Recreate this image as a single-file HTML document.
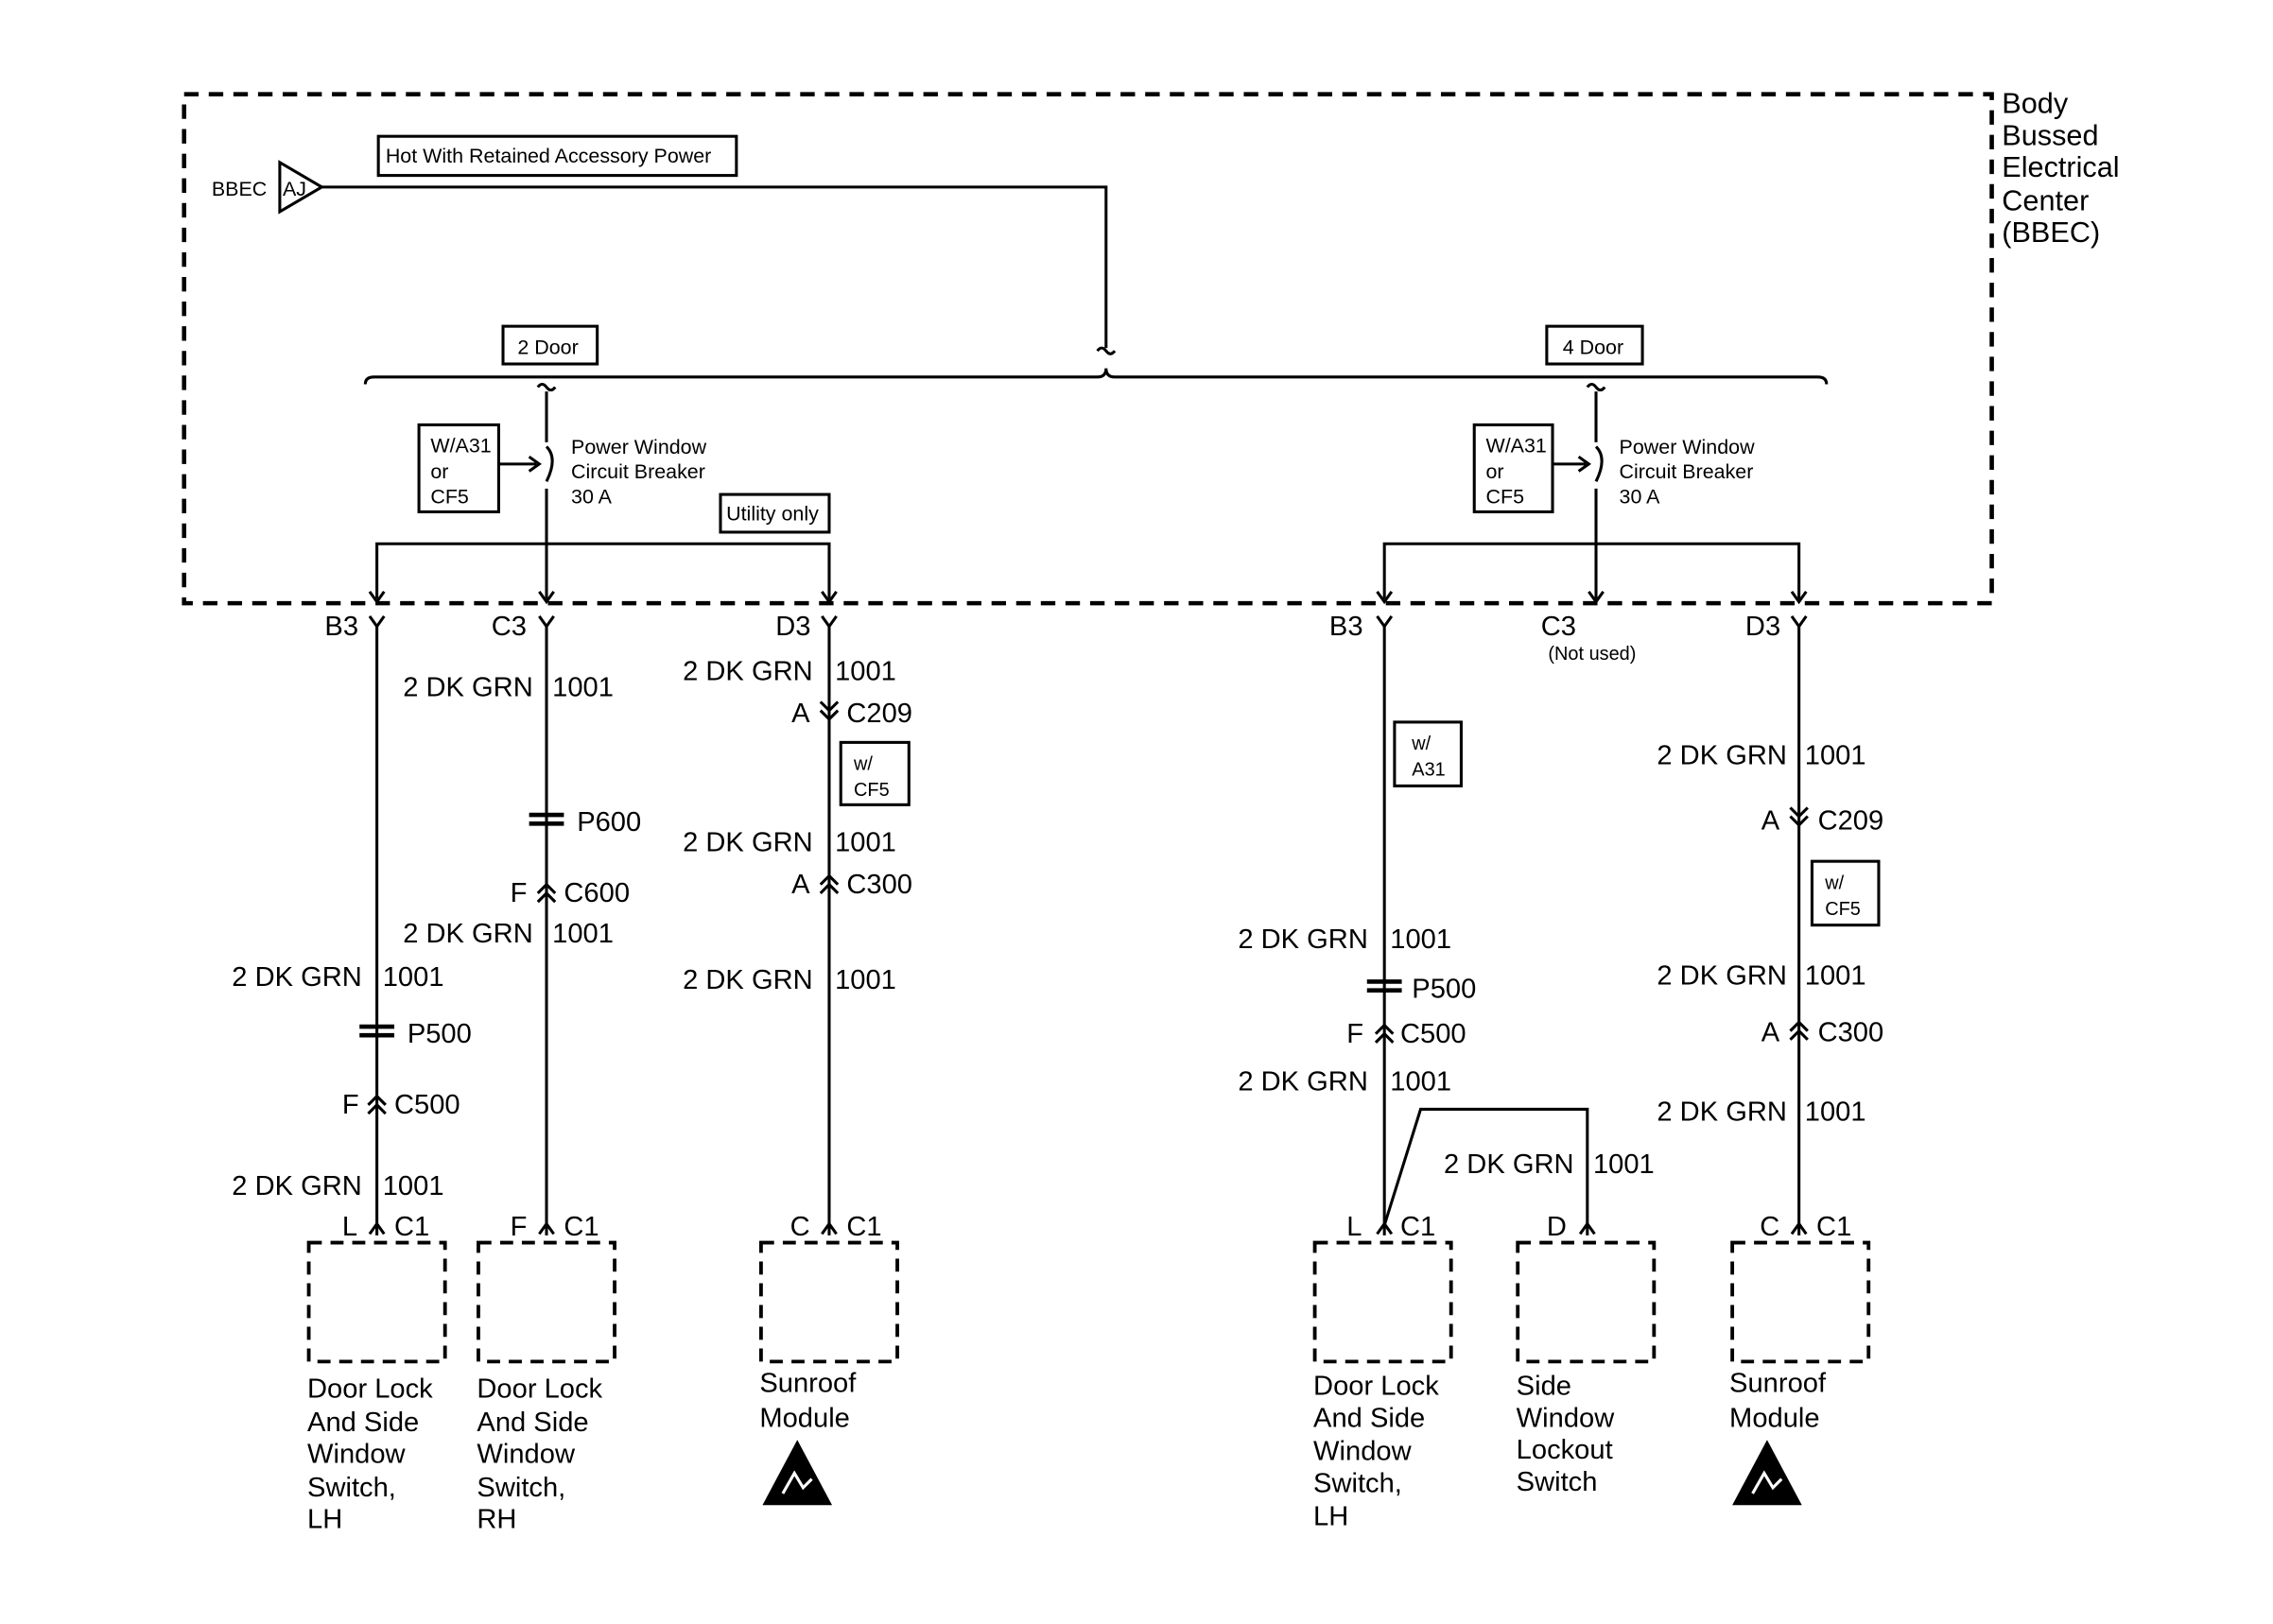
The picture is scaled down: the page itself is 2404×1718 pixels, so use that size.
<!DOCTYPE html>
<html><head><meta charset="utf-8"><style>
html,body{margin:0;padding:0;background:#fff}
svg{display:block}
text{font-family:"Liberation Sans",Arial,sans-serif;fill:#000}
.w{font-size:19px}
.s{font-size:14px}
.b{font-size:20px}
</style></head><body>
<svg width="2404" height="1718" viewBox="0 0 1568 1120" preserveAspectRatio="none" xmlns="http://www.w3.org/2000/svg">
<g fill="none" stroke="#000" stroke-width="2">
<rect x="127" y="65" width="1247" height="351" stroke-width="3" stroke-dasharray="10,7"/>
<rect x="261" y="94" width="247" height="27"/>
<polygon points="193,112 222,129 193,146"/>
<polyline points="222,129 763,129 763,240"/>
<path d="M757,242 q3,-4 6,0 t6,0"/>
<path d="M252,265 q0,-5 6,-5 L757,260 q6,0 6,-6 q0,6 6,6 L1254,260 q6,0 6,5"/>
<rect x="347" y="225" width="65" height="26"/>
<rect x="1067" y="225" width="66" height="26"/>
<path d="M371,267 q3,-4 6,0 t6,0"/>
<line x1="377" y1="270" x2="377" y2="305"/>
<path d="M377,308 q8,8 0,24"/>
<line x1="377" y1="337" x2="377" y2="375"/>
<rect x="289" y="293" width="55" height="60"/>
<line x1="344" y1="320" x2="370" y2="320"/>
<path d="M365,315 L372,320 L365,325"/>
<rect x="497" y="341" width="75" height="26"/>
<polyline points="260,413 260,375 572,375 572,413"/>
<line x1="377" y1="375" x2="377" y2="413"/>
<path d="M1095,267 q3,-4 6,0 t6,0"/>
<line x1="1101" y1="270" x2="1101" y2="305"/>
<path d="M1101,308 q8,8 0,24"/>
<line x1="1101" y1="337" x2="1101" y2="413"/>
<rect x="1017" y="293" width="54" height="60"/>
<line x1="1071" y1="320" x2="1094" y2="320"/>
<path d="M1089,315 L1096,320 L1089,325"/>
<polyline points="955,413 955,375 1241,375 1241,413"/>
<path d="M255,408 L260,415 L265,408 M372,408 L377,415 L382,408 M567,408 L572,415 L577,408 M950,408 L955,415 L960,408 M1096,408 L1101,415 L1106,408 M1236,408 L1241,415 L1246,408"/>
<path d="M255,425 L260,432 L265,425 M372,425 L377,432 L382,425 M567,425 L572,432 L577,425 M950,425 L955,432 L960,425 M1236,425 L1241,432 L1246,425"/>
<line x1="260" y1="432" x2="260" y2="852"/>
<line x1="377" y1="432" x2="377" y2="852"/>
<line x1="572" y1="432" x2="572" y2="852"/>
<line x1="955" y1="432" x2="955" y2="852"/>
<line x1="1241" y1="432" x2="1241" y2="852"/>
<polyline points="955,845 980,765 1095,765 1095,852"/>
<path d="M255,851 L260,844 L265,851 M372,851 L377,844 L382,851 M567,851 L572,844 L577,851 M950,851 L955,844 L960,851 M1090,851 L1095,844 L1100,851 M1236,851 L1241,844 L1246,851"/>
<path d="M566,484 L572,490 L578,484 M566,490 L572,496 L578,490 M1235,557 L1241,563 L1247,557 M1235,563 L1241,569 L1247,563"/>
<path d="M254,762 L260,756 L266,762 M254,768 L260,762 L266,768 M371,616 L377,610 L383,616 M371,622 L377,616 L383,622 M566,610 L572,604 L578,610 M566,616 L572,610 L578,616 M949,713 L955,707 L961,713 M949,719 L955,713 L961,719 M1235,711 L1241,705 L1247,711 M1235,717 L1241,711 L1247,717"/>
<g stroke-width="3">
<path d="M248,708 h24 M248,714 h24 M365,562 h24 M365,568 h24 M943,677 h24 M943,683 h24"/>
</g>
<rect x="580" y="512" width="47" height="43"/>
<rect x="962" y="498" width="46" height="44"/>
<rect x="1250" y="594" width="46" height="44"/>
<g stroke-width="2.5" stroke-dasharray="9,6">
<rect x="213" y="857" width="94" height="82"/>
<rect x="330" y="857" width="94" height="82"/>
<rect x="525" y="857" width="94" height="82"/>
<rect x="907" y="857" width="94" height="82"/>
<rect x="1047" y="857" width="94" height="82"/>
<rect x="1195" y="857" width="94" height="82"/>
</g>
</g>
<g>
<polygon points="550,993 526,1038 574,1038" fill="#000"/>
<path d="M540,1030 l8,-14 l6,10 l6,-6" stroke="#fff" stroke-width="2" fill="none"/>
<polygon points="1219,993 1195,1038 1243,1038" fill="#000"/>
<path d="M1209,1030 l8,-14 l6,10 l6,-6" stroke="#fff" stroke-width="2" fill="none"/>
</g>
<text class="s" x="266" y="112">Hot With Retained Accessory Power</text>
<text class="s" x="146" y="135">BBEC</text>
<text class="s" x="195" y="135">AJ</text>
<text class="b" x="1381" y="78">Body</text>
<text class="b" x="1381" y="100">Bussed</text>
<text class="b" x="1381" y="122">Electrical</text>
<text class="b" x="1381" y="145">Center</text>
<text class="b" x="1381" y="167">(BBEC)</text>
<text class="s" x="357" y="244">2 Door</text>
<text class="s" x="1078" y="244">4 Door</text>
<text class="s" x="297" y="312">W/A31</text><text class="s" x="297" y="330">or</text><text class="s" x="297" y="347">CF5</text>
<text class="s" x="1025" y="312">W/A31</text><text class="s" x="1025" y="330">or</text><text class="s" x="1025" y="347">CF5</text>
<text class="s" x="394" y="313">Power Window</text><text class="s" x="394" y="330">Circuit Breaker</text><text class="s" x="394" y="347">30 A</text>
<text class="s" x="1117" y="313">Power Window</text><text class="s" x="1117" y="330">Circuit Breaker</text><text class="s" x="1117" y="347">30 A</text>
<text class="s" x="501" y="359">Utility only</text>
<g class="w">
<text x="224" y="438">B3</text><text x="339" y="438">C3</text><text x="535" y="438">D3</text>
<text x="917" y="438">B3</text><text x="1063" y="438">C3</text><text x="1204" y="438">D3</text>
<text x="278" y="480">2 DK GRN</text><text x="381" y="480">1001</text>
<text x="398" y="573">P600</text>
<text x="352" y="622">F</text><text x="389" y="622">C600</text>
<text x="278" y="650">2 DK GRN</text><text x="381" y="650">1001</text>
<text x="160" y="680">2 DK GRN</text><text x="264" y="680">1001</text>
<text x="281" y="719">P500</text>
<text x="236" y="768">F</text><text x="272" y="768">C500</text>
<text x="160" y="824">2 DK GRN</text><text x="264" y="824">1001</text>
<text x="471" y="469">2 DK GRN</text><text x="576" y="469">1001</text>
<text x="546" y="498">A</text><text x="584" y="498">C209</text>
<text x="471" y="587">2 DK GRN</text><text x="576" y="587">1001</text>
<text x="546" y="616">A</text><text x="584" y="616">C300</text>
<text x="471" y="682">2 DK GRN</text><text x="576" y="682">1001</text>
<text x="854" y="654">2 DK GRN</text><text x="959" y="654">1001</text>
<text x="974" y="688">P500</text>
<text x="929" y="719">F</text><text x="966" y="719">C500</text>
<text x="854" y="752">2 DK GRN</text><text x="959" y="752">1001</text>
<text x="996" y="809">2 DK GRN</text><text x="1099" y="809">1001</text>
<text x="1143" y="527">2 DK GRN</text><text x="1245" y="527">1001</text>
<text x="1215" y="572">A</text><text x="1254" y="572">C209</text>
<text x="1143" y="679">2 DK GRN</text><text x="1245" y="679">1001</text>
<text x="1215" y="718">A</text><text x="1254" y="718">C300</text>
<text x="1143" y="773">2 DK GRN</text><text x="1245" y="773">1001</text>
<text x="236" y="852">L</text><text x="272" y="852">C1</text>
<text x="352" y="852">F</text><text x="389" y="852">C1</text>
<text x="545" y="852">C</text><text x="584" y="852">C1</text>
<text x="929" y="852">L</text><text x="966" y="852">C1</text>
<text x="1067" y="852">D</text>
<text x="1214" y="852">C</text><text x="1253" y="852">C1</text>
<text x="212" y="964">Door Lock</text><text x="212" y="987">And Side</text><text x="212" y="1009">Window</text><text x="212" y="1032">Switch,</text><text x="212" y="1054">LH</text>
<text x="329" y="964">Door Lock</text><text x="329" y="987">And Side</text><text x="329" y="1009">Window</text><text x="329" y="1032">Switch,</text><text x="329" y="1054">RH</text>
<text x="524" y="960">Sunroof</text><text x="524" y="984">Module</text>
<text x="906" y="962">Door Lock</text><text x="906" y="984">And Side</text><text x="906" y="1007">Window</text><text x="906" y="1029">Switch,</text><text x="906" y="1052">LH</text>
<text x="1046" y="962">Side</text><text x="1046" y="984">Window</text><text x="1046" y="1006">Lockout</text><text x="1046" y="1028">Switch</text>
<text x="1193" y="960">Sunroof</text><text x="1193" y="984">Module</text>
</g>
<text class="s" x="1068" y="455" style="font-size:13px">(Not used)</text>
<text class="s" x="589" y="531" style="font-size:13px">w/</text><text class="s" x="589" y="549" style="font-size:13px">CF5</text>
<text class="s" x="974" y="517" style="font-size:13px">w/</text><text class="s" x="974" y="535" style="font-size:13px">A31</text>
<text class="s" x="1259" y="613" style="font-size:13px">w/</text><text class="s" x="1259" y="631" style="font-size:13px">CF5</text>
</svg>
</body></html>
